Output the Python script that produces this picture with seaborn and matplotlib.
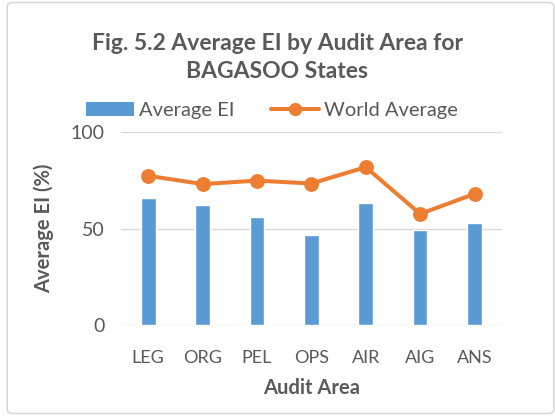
import matplotlib
matplotlib.use("Agg")
import matplotlib.pyplot as plt
from matplotlib.patches import Patch, FancyBboxPatch
from matplotlib.lines import Line2D
import seaborn as sns
import pandas as pd

# data
areas = ["LEG", "ORG", "PEL", "OPS", "AIR", "AIG", "ANS"]
average_ei = [65.9, 62.2, 56.3, 46.8, 63.4, 49.2, 53.2]
world_average = [77.5, 73.2, 75.0, 73.5, 82.0, 57.7, 68.1]

df = pd.DataFrame({"Area": areas, "Average EI": average_ei, "World Average": world_average})

BLUE = "#5B9BD5"
ORANGE = "#ED7D31"
TEXT = "#595959"
GRID = "#D9D9D9"

sns.set_style("white")
plt.rcParams["font.family"] = ["Lato", "DejaVu Sans"]

fig = plt.figure(figsize=(5.55, 4.16), dpi=100)
ax = fig.add_axes([0.218, 0.2188, 0.686, 0.4627])

sns.barplot(data=df, x="Area", y="Average EI", color=BLUE, width=0.27,
            saturation=1, ax=ax, zorder=2)
sns.pointplot(data=df, x="Area", y="World Average", color=ORANGE, markers="o",
              markersize=8.5, linewidth=2.9, ax=ax, zorder=3)

ax.set_ylim(0, 100)
ax.set_yticks([0, 50, 100])
ax.yaxis.grid(True, color=GRID, linewidth=1, zorder=0)
ax.set_axisbelow(True)
for s in ax.spines.values():
    s.set_visible(False)
ax.tick_params(axis="both", length=0, colors=TEXT)
ax.tick_params(axis="y", labelsize=14, pad=12)
ax.tick_params(axis="x", labelsize=13, pad=18)

ax.set_xlabel("Audit Area", fontsize=14.5, fontweight="bold", color=TEXT, labelpad=9)
ax.set_ylabel("Average EI (%)", fontsize=14.5, fontweight="bold", color=TEXT, labelpad=12)

fig.text(0.5, 0.862, "Fig. 5.2 Average EI by Audit Area for\nBAGASOO States",
         ha="center", va="center", fontsize=16.5, fontweight="bold", color=TEXT,
         linespacing=1.45)

handles = [Patch(facecolor=BLUE, edgecolor="none"),
           Line2D([0], [0], color=ORANGE, linewidth=2.9, marker="o", markersize=8.5)]
fig.legend(handles, ["Average EI", "World Average"], loc="center",
           bbox_to_anchor=(0.49, 0.735), ncol=2, frameon=False, fontsize=14.5,
           labelcolor=TEXT, handlelength=2.4, handletextpad=0.25, columnspacing=1.8)

fig.patches.append(FancyBboxPatch((0.013, 0.006), 0.985, 0.988,
                                  boxstyle="round,pad=0,rounding_size=0.01",
                                  transform=fig.transFigure, facecolor="none",
                                  edgecolor=GRID, linewidth=1.2))

fig.savefig("out.png", dpi=100)
